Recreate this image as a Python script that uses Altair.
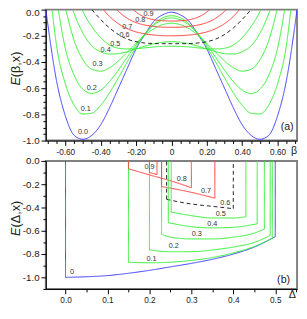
import altair as alt
import pandas as pd

FONT = "Liberation Sans"

# ---------------- panel (a): E(beta, x), half curves for beta >= 0 (symmetric) ----------------
A_SERIES = ["0.0", "0.1", "0.2", "0.3", "0.4", "0.5", "0.6", "0.7", "0.8", "0.9"]
A_COLORS = ["#3c3cff", "#33ee33", "#33ee33", "#33ee33", "#33ee33", "#33ee33",
            "#222222", "#ff3c3c", "#ff3c3c", "#ff3c3c"]
A_DASH = [[1, 0]] * 6 + [[4, 3]] + [[1, 0]] * 3

BETA_00 = [0, 0.05, 0.1, 0.15, 0.2, 0.25, 0.3, 0.35, 0.4, 0.45, 0.5, 0.55, 0.6, 0.65, 0.7, 0.71]
E_00 = [-0.02, -0.04, -0.09, -0.19, -0.30, -0.45, -0.60, -0.75, -0.88, -0.96, -0.99, -0.96, -0.81, -0.54, -0.10, 0.0]
BETA_01 = [0, 0.05, 0.1, 0.15, 0.2, 0.25, 0.3, 0.35, 0.4, 0.45, 0.5, 0.55, 0.6, 0.65, 0.675]
E_01 = [-0.047, -0.063, -0.111, -0.187, -0.286, -0.401, -0.521, -0.636, -0.731, -0.791, -0.797, -0.729, -0.565, -0.27, 0.0]
BETA_02 = [0, 0.05, 0.1, 0.15, 0.2, 0.25, 0.3, 0.35, 0.4, 0.45, 0.5, 0.55, 0.6, 0.64]
E_02 = [-0.064, -0.078, -0.119, -0.185, -0.269, -0.364, -0.462, -0.550, -0.615, -0.640, -0.609, -0.501, -0.295, 0.0]
BETA_03 = [0, 0.05, 0.1, 0.15, 0.2, 0.25, 0.3, 0.35, 0.4, 0.45, 0.5, 0.55, 0.597]
E_03 = [-0.104, -0.115, -0.146, -0.196, -0.258, -0.326, -0.392, -0.444, -0.470, -0.456, -0.384, -0.236, 0.0]
BETA_04 = [0, 0.05, 0.1, 0.15, 0.2, 0.25, 0.3, 0.35, 0.4, 0.45, 0.5, 0.55, 0.558]
E_04 = [-0.245, -0.249, -0.261, -0.279, -0.301, -0.321, -0.336, -0.339, -0.322, -0.277, -0.18, -0.03, 0.0]
BETA_05 = [0, 0.05, 0.1, 0.15, 0.2, 0.25, 0.3, 0.35, 0.4, 0.45, 0.5, 0.505]
E_05 = [-0.28, -0.281, -0.285, -0.292, -0.298, -0.30, -0.295, -0.27, -0.215, -0.13, -0.015, 0.0]
BETA_06 = [0, 0.05, 0.1, 0.15, 0.2, 0.25, 0.3, 0.35, 0.4, 0.45]
E_06 = [-0.26, -0.26, -0.259, -0.255, -0.245, -0.225, -0.19, -0.14, -0.075, 0.0]
BETA_07 = [0, 0.05, 0.1, 0.15, 0.2, 0.25, 0.3, 0.35, 0.385]
E_07 = [-0.20, -0.199, -0.194, -0.185, -0.170, -0.145, -0.107, -0.052, 0.0]
BETA_08 = [0, 0.05, 0.1, 0.15, 0.2, 0.25, 0.3, 0.31]
E_08 = [-0.135, -0.134, -0.128, -0.118, -0.099, -0.066, -0.013, 0.0]
BETA_09 = [0, 0.05, 0.1, 0.15, 0.2, 0.215]
E_09 = [-0.087, -0.085, -0.077, -0.058, -0.018, 0.0]

A_BETA = [BETA_00, BETA_01, BETA_02, BETA_03, BETA_04, BETA_05, BETA_06, BETA_07, BETA_08, BETA_09]
A_E = [E_00, E_01, E_02, E_03, E_04, E_05, E_06, E_07, E_08, E_09]

# curve labels in panel (a)
A_LABEL_BETA = [-0.50, -0.484, -0.45, -0.418, -0.372, -0.318, -0.265, -0.25, -0.176, -0.13]
A_LABEL_E = [-0.936, -0.759, -0.596, -0.418, -0.312, -0.262, -0.195, -0.13, -0.083, -0.035]

A_XTICKS = [round(-0.7 + 0.05 * i, 2) for i in range(29)]
A_YTICKS = [round(-1.0 + 0.05 * i, 2) for i in range(21)]

# ---------------- panel (b): E(Delta, x) ----------------
B_SERIES = ["0", "0.1", "0.2", "0.3", "0.4", "0.5", "0.6", "0.7", "0.8", "0.9"]
D_0 = [0, 0.05, 0.1, 0.15, 0.2, 0.25, 0.3, 0.35, 0.4, 0.45, 0.5]
F_0 = [-1.0, -0.995, -0.985, -0.965, -0.94, -0.91, -0.88, -0.845, -0.80, -0.74, -0.65]
D_1 = [0.15, 0.2, 0.25, 0.3, 0.35, 0.4, 0.45, 0.493]
F_1 = [-0.87, -0.875, -0.87, -0.855, -0.83, -0.79, -0.735, -0.665]
D_2 = [0.2, 0.25, 0.3, 0.35, 0.4, 0.45, 0.488]
F_2 = [-0.765, -0.78, -0.78, -0.765, -0.74, -0.70, -0.64]
D_3 = [0.229, 0.25, 0.3, 0.35, 0.4, 0.45, 0.474]
F_3 = [-0.63, -0.655, -0.67, -0.67, -0.655, -0.62, -0.585]
D_4 = [0.245, 0.3, 0.35, 0.4, 0.457]
F_4 = [-0.53, -0.565, -0.575, -0.57, -0.54]
D_5 = [0.252, 0.3, 0.35, 0.4, 0.43]
F_5 = [-0.44, -0.47, -0.49, -0.49, -0.48]
D_6 = [0.241, 0.3, 0.35, 0.4]
F_6 = [-0.33, -0.37, -0.39, -0.41]
D_7 = [0.229, 0.3, 0.356]
F_7 = [-0.22, -0.27, -0.32]
D_8 = [0.15, 0.2, 0.25, 0.3]
F_8 = [-0.067, -0.12, -0.17, -0.23]
D_9 = [0.2, 0.218]
F_9 = [-0.10, -0.117]
B_D = [D_0, D_1, D_2, D_3, D_4, D_5, D_6, D_7, D_8, D_9]
B_F = [F_0, F_1, F_2, F_3, F_4, F_5, F_6, F_7, F_8, F_9]

B_LABEL_D = [0.0155, 0.205, 0.258, 0.313, 0.35, 0.37, 0.381, 0.335, 0.277, 0.2]
B_LABEL_E = [-0.953, -0.84, -0.735, -0.625, -0.54, -0.458, -0.36, -0.258, -0.153, -0.05]

B_XTICKS = [round(-0.05 + 0.05 * i, 2) for i in range(13)]
B_YTICKS = [round(-1.1 + 0.1 * i, 1) for i in range(12)]

# ---------------- build tables ----------------
rows_a = []
for s, bl, el in zip(A_SERIES, A_BETA, A_E):
    for b, e in zip(bl, el):
        rows_a.append({"x": s, "beta": b, "E": e})
        if b > 0:
            rows_a.append({"x": s, "beta": -b, "E": e})
df_a = pd.DataFrame(rows_a)
df_alab = pd.DataFrame({"x": A_SERIES, "beta": A_LABEL_BETA, "E": A_LABEL_E})

rows_b, rows_v = [], []
for s, dl, fl in zip(B_SERIES, B_D, B_F):
    for d, f in zip(dl, fl):
        rows_b.append({"x": s, "D": d, "E": f})
    rows_v.append({"x": s, "D": dl[0], "E": fl[0], "E0": 0.0})
    rows_v.append({"x": s, "D": dl[-1], "E": fl[-1], "E0": 0.0})
df_b = pd.DataFrame(rows_b)
df_v = pd.DataFrame(rows_v)
df_blab = pd.DataFrame({"x": B_SERIES, "D": B_LABEL_D, "E": B_LABEL_E})

W = 259
HA = 135
HB = 132

col_a = alt.Color("x:N", scale=alt.Scale(domain=A_SERIES, range=A_COLORS), legend=None)
dash_a = alt.StrokeDash("x:N", scale=alt.Scale(domain=A_SERIES, range=A_DASH), legend=None)
col_b = alt.Color("x:N", scale=alt.Scale(domain=B_SERIES, range=A_COLORS), legend=None)
dash_b = alt.StrokeDash("x:N", scale=alt.Scale(domain=B_SERIES, range=A_DASH), legend=None)

def tick_size(test):
    return {"condition": {"test": test, "value": 5}, "value": 3}

MAJ5 = "abs(datum.value*5 - round(datum.value*5)) < 0.001"
MAJ10 = "abs(datum.value*10 - round(datum.value*10)) < 0.001"
TOP_OFF = {"condition": {"test": "abs(datum.value) < 0.001", "value": 3}, "value": 0}

xa = alt.X("beta:Q", scale=alt.Scale(domain=[-0.71, 0.71], nice=False, zero=False),
           axis=alt.Axis(values=A_XTICKS, title=None, grid=False, labelOverlap=False, labelFlush=False,
                         tickSize=tick_size(MAJ5),
                         labelExpr=MAJ5 + " ? (abs(datum.value) < 0.001 ? '0' : replace(format(datum.value, '.2f'), '\u2212', '-')) : ''"))
ya = alt.Y("E:Q", scale=alt.Scale(domain=[-1.0, 0.0], nice=False, zero=False),
           axis=alt.Axis(values=A_YTICKS, title=None, grid=False, labelOverlap=False, labelFlush=False,
                         tickSize=tick_size(MAJ5), labelOffset=TOP_OFF,
                         labelExpr=MAJ5 + " ? replace(format(datum.value, '.1f'), '\u2212', '-') : ''"))

lines_a = alt.Chart(df_a).mark_line(interpolate="monotone", strokeWidth=1, clip=True).encode(
    x=xa, y=ya, color=col_a, strokeDash=dash_a, detail="x:N", order="beta:Q")
labels_a = alt.Chart(df_alab).mark_text(font=FONT, fontSize=7.5, color="#333333").encode(
    x=xa, y=ya, text="x:N")
tag_a = alt.Chart(pd.DataFrame({"t": ["(a)"], "beta": [0.654], "E": [-0.90]})).mark_text(
    font=FONT, fontSize=11, color="#222222").encode(x=xa, y=ya, text="t:N")
beta_lab = alt.Chart(pd.DataFrame({"t": ["β"]})).mark_text(
    font=FONT, fontSize=11, color="#222222", baseline="middle").encode(
    x=alt.value(W - 3), y=alt.value(HA + 11), text="t:N")
ytitle_a1 = alt.Chart(pd.DataFrame({"t": ["E"]})).mark_text(
    font=FONT, fontSize=13, fontStyle="italic", angle=270, align="left", baseline="middle", color="#222222").encode(
    x=alt.value(-31), y=alt.value(78.3), text="t:N")
ytitle_a2 = alt.Chart(pd.DataFrame({"t": ["(β,x)"]})).mark_text(
    font=FONT, fontSize=13, angle=270, align="left", baseline="middle", color="#222222").encode(
    x=alt.value(-31), y=alt.value(69.6), text="t:N")

top = alt.layer(lines_a, labels_a, tag_a, beta_lab, ytitle_a1, ytitle_a2).properties(width=W, height=HA)

xb = alt.X("D:Q", scale=alt.Scale(domain=[-0.047, 0.552], nice=False, zero=False),
           axis=alt.Axis(values=B_XTICKS, title=None, grid=False, labelOverlap=False, labelFlush=False,
                         tickSize=tick_size(MAJ10),
                         labelExpr=MAJ10 + " && datum.value > -0.01 ? format(datum.value, '.1f') : ''"))
yb = alt.Y("E:Q", scale=alt.Scale(domain=[-1.1, 0.0], nice=False, zero=False),
           axis=alt.Axis(values=B_YTICKS, title=None, grid=False, labelOverlap=False, labelFlush=False,
                         tickSize=tick_size(MAJ5),
                         labelExpr=MAJ5 + " ? replace(format(datum.value, '.1f'), '\u2212', '-') : ''"))

arcs_b = alt.Chart(df_b).mark_line(interpolate="monotone", strokeWidth=1, clip=True).encode(
    x=xb, y=yb, color=col_b, strokeDash=dash_b, detail="x:N", order="D:Q")
verts_b = alt.Chart(df_v).mark_rule(strokeWidth=1, clip=True).encode(
    x=xb, y=yb, y2="E0:Q", color=col_b, strokeDash=dash_b)
labels_b = alt.Chart(df_blab).mark_text(font=FONT, fontSize=7.5, color="#333333").encode(
    x=xb, y=yb, text="x:N")
tag_b = alt.Chart(pd.DataFrame({"t": ["(b)"], "D": [0.52], "E": [-1.025]})).mark_text(
    font=FONT, fontSize=11, color="#222222").encode(x=xb, y=yb, text="t:N")
delta_lab = alt.Chart(pd.DataFrame({"t": ["Δ"]})).mark_text(
    font=FONT, fontSize=11, color="#222222", baseline="middle").encode(
    x=alt.value(W - 5), y=alt.value(HB + 6), text="t:N")
ytitle_b1 = alt.Chart(pd.DataFrame({"t": ["E"]})).mark_text(
    font=FONT, fontSize=13, fontStyle="italic", angle=270, align="left", baseline="middle", color="#222222").encode(
    x=alt.value(-31), y=alt.value(77.3), text="t:N")
ytitle_b2 = alt.Chart(pd.DataFrame({"t": ["(Δ,x)"]})).mark_text(
    font=FONT, fontSize=13, angle=270, align="left", baseline="middle", color="#222222").encode(
    x=alt.value(-31), y=alt.value(68.6), text="t:N")

bottom = alt.layer(arcs_b, verts_b, labels_b, tag_b, delta_lab, ytitle_b1, ytitle_b2).properties(width=W, height=HB)

chart = alt.vconcat(top, bottom, spacing=21, bounds="flush").properties(
    padding={"left": 0, "top": -6, "right": 0, "bottom": 0}
).configure_view(stroke="#808080", strokeWidth=2).configure_axis(
    labelFont=FONT, labelFontSize=10, labelColor="#222222", domainColor="#000000",
    tickColor="#000000", domainWidth=1, tickWidth=1, labelPadding=2, labelOverlap=False
).configure_axisX(labelFontSize=8.5)

chart.save("out.html", embed_options={"renderer": "svg", "actions": False})
